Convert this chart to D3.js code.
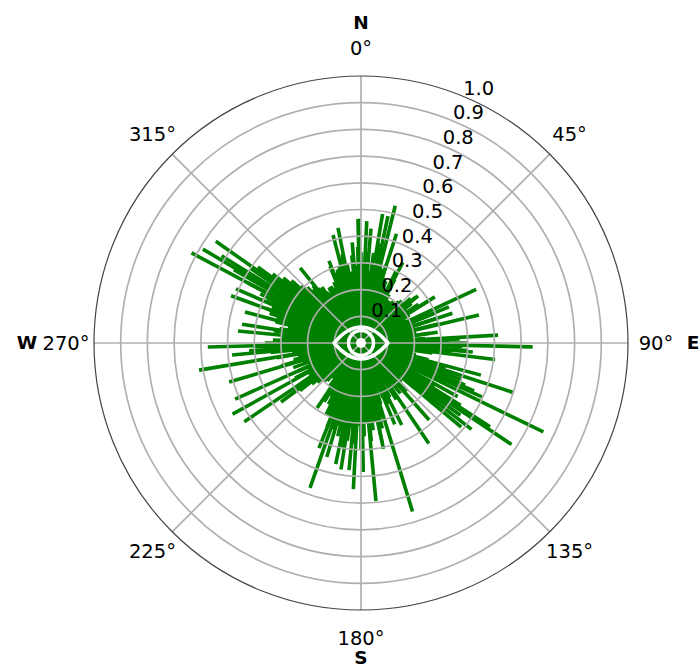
<!DOCTYPE html>
<html>
<head>
<meta charset="utf-8">
<script src="https://cdn.jsdelivr.net/npm/d3@7"></script>
<style>
  html, body { margin: 0; background: #fff; overflow: hidden; }
  text { font-family: "DejaVu Sans"; font-size: 19.5px; fill: #000; }
</style>
</head>
<body>
<div id="chart"></div>
<script>
// body of the rose, one value every 2 degrees (clockwise from north)
const bodyValues = [
  .34,.30,.32,.27,.34,.38,.36,.30,.29,.31,.26,.25,.22,.30,.27, // 0-28
  .21,.19,.19,.19,.20,.20,.21,.22,.22,.25,.27,.24,.21,.26,.30, // 30-58
  .21,.18,.19,.22,.30,.19,.30,.20,.30,.18,.21,.26,.19,.24,.33, // 60-88
  .40,.38,.40,.34,.27,.20,.21,.26,.33,.38,.40,.42,.30,.23,.22, // 90-118
  .32,.44,.50,.46,.36,.26,.20,.21,.25,.22,.18,.24,.17,.22,.25, // 120-148
  .17,.23,.20,.25,.22,.18,.24,.29,.33,.38,.30,.33,.37,.30,.35, // 150-178
  .40,.31,.38,.32,.37,.40,.33,.36,.32,.34,.31,.34,.30,.30,.26, // 180-208
  .23,.26,.22,.20,.16,.17,.19,.20,.20,.22,.24,.29,.21,.27,.23, // 210-238
  .22,.28,.22,.26,.21,.27,.23,.31,.26,.24,.32,.26,.34,.42,.40, // 240-268
  .36,.33,.30,.28,.33,.31,.28,.33,.33,.36,.38,.36,.39,.42,.48, // 270-298
  .55,.52,.50,.47,.42,.38,.35,.31,.29,.27,.28,.26,.25,.23,.22, // 300-328
  .24,.24,.23,.25,.31,.28,.29,.30,.33,.34,.30,.27,.33,.29,.36  // 330-358
];
const bodyBearings = d3.range(bodyValues.length).map(i => i * 2);

const spikeBearings = [14, 9.5, 12, 5, 2.7, 358.6, 18, 27.4, 65, 58, 50.5, 67.7, 72, 76.6, 82, 86.7, 91.3, 87.7,
  94.6, 97, 105, 108, 113, 114, 116, 119, 123, 124, 128, 130, 138.5, 146, 153.6, 157.5, 163, 168, 174.6, 179, 183,
  185.4, 189, 191.8, 196.7, 199.4, 201.8, 214, 233.6, 236, 241, 246, 253.5, 260.5, 264.7,
  268.5, 275.6, 279, 285, 290, 293.4, 302, 298, 300.7, 305, 306.4, 309, 321, 325, 331, 338.7, 345.5, 348.7, 355, 359];
const spikeValues = [.53, .49, .486, .43, .457, .465, .43, .34, .476, .326, .277, .356, .36, .454, .29, .514, .643, .37,
  .42, .506, .465, .6, .46, .496, .76, .414, .576, .68, .525, .49, .385, .454, .343, .33, .66, .405, .595, .483, .548,
  .478, .48, .463, .446, .575, .424, .294, .372, .527, .55, .516, .515, .615, .485,
  .574, .463, .451, .45, .518, .51, .616, .719, .689, .664, .48, .358, .362, .256, .24, .33, .418, .44, .378, .465];

const radialTicks = [.1, .2, .3, .4, .5, .6, .7, .8, .9, 1];
const angleTicks = [0, 45, 90, 135, 180, 225, 270, 315];
const compass = [["N", 0], ["E", 90], ["S", 180], ["W", 270]];

const width = 699, height = 668;
const cx = 361, cy = 343;
const radius = 267;

const rScale = d3.scaleLinear().domain([0, 1]).range([0, radius]);
const aScale = d3.scaleLinear().domain([0, 360]).range([0, 2 * Math.PI]);
const polar = (deg, r) => d3.pointRadial(aScale(deg), r);

const svg = d3.select("#chart").append("svg")
  .attr("width", width)
  .attr("height", height);

const g = svg.append("g").attr("transform", `translate(${cx},${cy})`);

// bars
const bars = bodyBearings.map((b, i) => [b, bodyValues[i]])
  .concat(spikeBearings.map((b, i) => [b, spikeValues[i]]));

g.selectAll("line.bar")
  .data(bars)
  .join("line")
  .attr("class", "bar")
  .attr("x1", 0)
  .attr("y1", 0)
  .attr("x2", d => polar(d[0], rScale(d[1]))[0])
  .attr("y2", d => polar(d[0], rScale(d[1]))[1])
  .attr("stroke", "green")
  .attr("stroke-width", 3.6);

// grid on top of the bars
g.selectAll("circle.grid")
  .data(radialTicks.slice(0, -1))
  .join("circle")
  .attr("class", "grid")
  .attr("r", d => rScale(d))
  .attr("fill", "none")
  .attr("stroke", "#b0b0b0")
  .attr("stroke-width", 1.7);

g.selectAll("line.spoke")
  .data(angleTicks)
  .join("line")
  .attr("class", "spoke")
  .attr("x2", d => polar(d, radius)[0])
  .attr("y2", d => polar(d, radius)[1])
  .attr("stroke", "#b0b0b0")
  .attr("stroke-width", 1.7);

g.append("circle")
  .attr("r", radius)
  .attr("fill", "none")
  .attr("stroke", "#444")
  .attr("stroke-width", 1.2);

// eye in the middle
const eye = d3.path();
eye.moveTo(-27, 0);
eye.quadraticCurveTo(0, -32, 27, 0);
eye.quadraticCurveTo(0, 32, -27, 0);
eye.closePath();
g.append("path")
  .attr("d", eye.toString())
  .attr("fill", "none")
  .attr("stroke", "#fff")
  .attr("stroke-width", 3.5)
  .attr("stroke-linejoin", "round");
g.append("circle")
  .attr("r", 12.5)
  .attr("fill", "none")
  .attr("stroke", "#fff")
  .attr("stroke-width", 3.5);
g.append("circle")
  .attr("r", 5)
  .attr("fill", "#fff");

// radial labels along 22.5 degrees
g.selectAll("text.rlabel")
  .data(radialTicks)
  .join("text")
  .attr("class", "rlabel")
  .attr("x", d => polar(22.5, rScale(d))[0])
  .attr("y", d => polar(22.5, rScale(d))[1])
  .attr("dy", "-0.08em")
  .text(d => d3.format(".1f")(d));

// angle labels
g.selectAll("text.alabel")
  .data(angleTicks)
  .join("text")
  .attr("class", "alabel")
  .attr("x", d => polar(d, 295)[0])
  .attr("y", d => polar(d, 295)[1])
  .attr("dy", "0.35em")
  .attr("text-anchor", "middle")
  .text(d => d + "°");

// compass letters
const compassR = { N: 320, E: 332, S: 315, W: 334 };
g.selectAll("text.compass")
  .data(compass)
  .join("text")
  .attr("class", "compass")
  .attr("x", d => polar(d[1], compassR[d[0]])[0])
  .attr("y", d => polar(d[1], compassR[d[0]])[1])
  .attr("dy", "0.35em")
  .attr("text-anchor", "middle")
  .style("font-weight", "bold")
  .style("font-size", "18.5px")
  .text(d => d[0]);
</script>
</body>
</html>
